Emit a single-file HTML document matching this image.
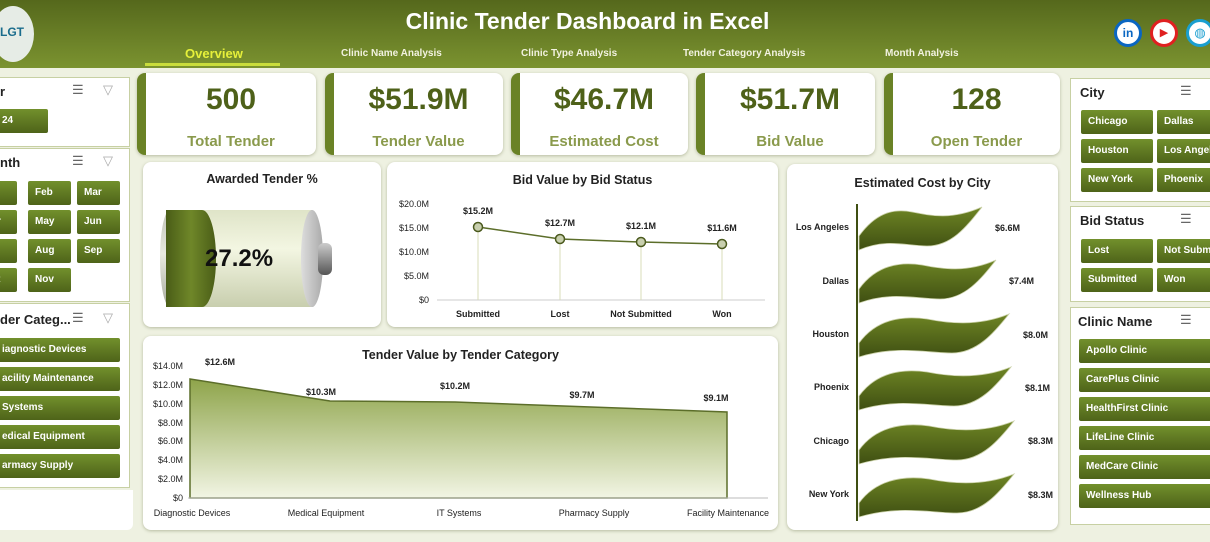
<!DOCTYPE html>
<html><head><meta charset="utf-8"><style>
*{box-sizing:border-box;margin:0;padding:0}
body{width:1210px;height:542px;overflow:hidden;background:#eef1e1;font-family:"Liberation Sans",sans-serif;position:relative}
.abs{position:absolute}
.hdr{left:0;top:0;width:1210px;height:68px;background:linear-gradient(#55681c,#7b9330)}
.card{position:absolute;background:#fff;border-radius:8px;box-shadow:0 1px 3px rgba(80,90,40,.35)}
.kpi{position:absolute;background:#fff;border-radius:8px;border-left:9px solid #6a8226;box-shadow:0 1px 3px rgba(80,90,40,.35)}
.kv{position:absolute;top:10px;width:100%;text-align:center;font-size:30px;font-weight:bold;color:#4e6119}
.kl{position:absolute;top:60px;width:100%;text-align:center;font-size:15px;font-weight:bold;color:#8a9a4c}
.btn{position:absolute;background:linear-gradient(#72902c,#4e6319);color:#fff;font-size:10px;font-weight:bold;border-radius:2px;padding-left:7px;line-height:24px;height:24px;white-space:nowrap;overflow:hidden}
.pan{position:absolute;background:#fff;border:1px solid #c7d0a3}
.pt{position:absolute;font-size:13px;font-weight:bold;color:#222}
.ic{position:absolute;font-size:13px;color:#666}
.tt{position:absolute;font-size:12.5px;font-weight:bold;color:#222;text-align:center}
svg text{font-family:"Liberation Sans",sans-serif}
</style></head><body>
<div class="abs hdr"></div>
<div class="abs" style="left:-8px;top:6px;width:42px;height:56px;border-radius:50%;background:#e6ece6"></div>
<div class="abs" style="left:0;top:25px;font-size:12px;font-weight:bold;color:#1a6c8c">LGT</div>
<div class="abs" style="left:0;top:8px;width:1175px;text-align:center;font-size:23px;font-weight:bold;color:#fff">Clinic Tender Dashboard in Excel</div>
<div class="abs" style="left:185px;top:46px;font-size:13px;font-weight:bold;color:#e6f03a">Overview</div>
<div class="abs" style="left:145px;top:63px;width:135px;height:3px;background:#c9dc3c"></div>
<div class="abs" style="left:341px;top:48px;font-size:10px;font-weight:bold;color:#f2f2e0">Clinic Name Analysis</div>
<div class="abs" style="left:521px;top:48px;font-size:10px;font-weight:bold;color:#f2f2e0">Clinic Type Analysis</div>
<div class="abs" style="left:683px;top:48px;font-size:10px;font-weight:bold;color:#f2f2e0">Tender Category  Analysis</div>
<div class="abs" style="left:885px;top:48px;font-size:10px;font-weight:bold;color:#f2f2e0">Month Analysis</div>
<div class="abs" style="left:1114px;top:19px;width:28px;height:28px;border-radius:50%;background:#fff;border:3px solid #0a66c2;color:#0a66c2;font-size:12px;font-weight:bold;text-align:center;line-height:22px">in</div>
<div class="abs" style="left:1150px;top:19px;width:28px;height:28px;border-radius:50%;background:#fff;border:3px solid #e02020;color:#e02020;font-size:11px;text-align:center;line-height:22px">▶</div>
<div class="abs" style="left:1186px;top:19px;width:28px;height:28px;border-radius:50%;background:#fff;border:3px solid #1a9fd0;color:#1a9fd0;font-size:13px;text-align:center;line-height:22px">◍</div>

<!-- left panels -->
<div class="pan" style="left:-2px;top:77px;width:132px;height:70px"></div>
<div class="pt" style="left:0;top:84px">r</div><div class="ic" style="left:72px;top:82px">☰</div><div class="ic" style="left:103px;top:82px;color:#aaa">▽</div>
<div class="btn" style="left:-5px;top:109px;width:53px">24</div>
<div class="pan" style="left:-2px;top:148px;width:132px;height:154px"></div>
<div class="pt" style="left:0;top:155px">nth</div><div class="ic" style="left:72px;top:153px">☰</div><div class="ic" style="left:103px;top:153px;color:#aaa">▽</div>
<div class="btn" style="left:-10px;top:181px;width:27px"></div><div class="btn" style="left:28px;top:181px;width:43px">Feb</div><div class="btn" style="left:77px;top:181px;width:43px">Mar</div>
<div class="btn" style="left:-10px;top:210px;width:27px">r</div><div class="btn" style="left:28px;top:210px;width:43px">May</div><div class="btn" style="left:77px;top:210px;width:43px">Jun</div>
<div class="btn" style="left:-10px;top:239px;width:27px"></div><div class="btn" style="left:28px;top:239px;width:43px">Aug</div><div class="btn" style="left:77px;top:239px;width:43px">Sep</div>
<div class="btn" style="left:-10px;top:268px;width:27px">t</div><div class="btn" style="left:28px;top:268px;width:43px">Nov</div>
<div class="pan" style="left:-2px;top:303px;width:132px;height:185px"></div>
<div class="pt" style="left:0;top:312px">der Categ...</div><div class="ic" style="left:72px;top:310px">☰</div><div class="ic" style="left:103px;top:310px;color:#aaa">▽</div>
<div class="btn" style="left:-5px;top:338px;width:125px">iagnostic Devices</div>
<div class="btn" style="left:-5px;top:367px;width:125px">acility Maintenance</div>
<div class="btn" style="left:-5px;top:396px;width:125px">Systems</div>
<div class="btn" style="left:-5px;top:425px;width:125px">edical Equipment</div>
<div class="btn" style="left:-5px;top:454px;width:125px">armacy Supply</div>
<div class="abs" style="left:0;top:490px;width:133px;height:40px;background:#fff;border-radius:0 0 6px 0"></div>

<!-- KPIs -->
<div class="kpi" style="left:137px;top:73px;width:179px;height:82px"><div class="kv">500</div><div class="kl">Total Tender</div></div>
<div class="kpi" style="left:325px;top:73px;width:178px;height:82px"><div class="kv">$51.9M</div><div class="kl">Tender Value</div></div>
<div class="kpi" style="left:511px;top:73px;width:177px;height:82px"><div class="kv">$46.7M</div><div class="kl">Estimated Cost</div></div>
<div class="kpi" style="left:696px;top:73px;width:179px;height:82px"><div class="kv">$51.7M</div><div class="kl">Bid Value</div></div>
<div class="kpi" style="left:884px;top:73px;width:176px;height:82px"><div class="kv">128</div><div class="kl">Open Tender</div></div>

<!-- Awarded -->
<div class="card" style="left:143px;top:162px;width:238px;height:165px"></div>
<div class="tt" style="left:143px;top:172px;width:238px">Awarded Tender %</div>
<div class="abs" style="left:160px;top:210px;width:162px;height:97px;border-radius:10px/48px;background:linear-gradient(#bfc2b6,#e8eae0 45%,#a9ac9f)"></div>
<div class="abs" style="left:166px;top:210px;width:145px;height:97px;background:linear-gradient(#dfe4c8,#f3f6e2 40%,#c8ceae)"></div>
<div class="abs" style="left:166px;top:210px;width:50px;height:97px;background:linear-gradient(90deg,#4a5d17,#6f8729 50%,#4a5d17);border-radius:0 14px 14px 0/0 48px 48px 0"></div>
<div class="abs" style="left:301px;top:210px;width:22px;height:97px;border-radius:11px/48px;background:linear-gradient(90deg,#ddd,#aaa)"></div>
<div class="abs" style="left:318px;top:243px;width:14px;height:32px;border-radius:6px;background:linear-gradient(#ccc,#555)"></div>
<div class="abs" style="left:205px;top:245px;font-size:24px;font-weight:bold;color:#111">27.2%</div>

<!-- Bid value chart -->
<div class="card" style="left:387px;top:162px;width:391px;height:165px"></div>
<div class="tt" style="left:387px;top:173px;width:391px">Bid Value by Bid Status</div>
<svg class="abs" style="left:387px;top:162px" width="391" height="165">
<g font-size="9" fill="#222" text-anchor="end">
<text x="42" y="45">$20.0M</text><text x="42" y="69">$15.0M</text><text x="42" y="93">$10.0M</text><text x="42" y="117">$5.0M</text><text x="42" y="141">$0</text></g>
<line x1="50" y1="138" x2="378" y2="138" stroke="#ccc"/>
<g stroke="#d8dcb8"><line x1="91" y1="65" x2="91" y2="138"/><line x1="173" y1="77" x2="173" y2="138"/><line x1="254" y1="80" x2="254" y2="138"/><line x1="335" y1="82" x2="335" y2="138"/></g>
<polyline points="91,65 173,77 254,80 335,82" fill="none" stroke="#5c6e2a" stroke-width="1.5"/>
<g fill="#c8cfae" stroke="#4b5a1e" stroke-width="1.5"><circle cx="91" cy="65" r="4.5"/><circle cx="173" cy="77" r="4.5"/><circle cx="254" cy="80" r="4.5"/><circle cx="335" cy="82" r="4.5"/></g>
<g font-size="9" font-weight="bold" fill="#222" text-anchor="middle">
<text x="91" y="52">$15.2M</text><text x="173" y="64">$12.7M</text><text x="254" y="67">$12.1M</text><text x="335" y="69">$11.6M</text>
<text x="91" y="155">Submitted</text><text x="173" y="155">Lost</text><text x="254" y="155">Not Submitted</text><text x="335" y="155">Won</text></g>
</svg>

<!-- Tender value chart -->
<div class="card" style="left:143px;top:336px;width:635px;height:194px"></div>
<div class="tt" style="left:143px;top:348px;width:635px">Tender Value by Tender Category</div>
<svg class="abs" style="left:143px;top:336px" width="635" height="194">
<defs><linearGradient id="ag" x1="0" y1="0" x2="0" y2="1"><stop offset="0" stop-color="#8ea44a"/><stop offset="1" stop-color="#f2f5e4"/></linearGradient></defs>
<g font-size="9" fill="#222" text-anchor="end">
<text x="40" y="33">$14.0M</text><text x="40" y="52">$12.0M</text><text x="40" y="71">$10.0M</text><text x="40" y="90">$8.0M</text><text x="40" y="108">$6.0M</text><text x="40" y="127">$4.0M</text><text x="40" y="146">$2.0M</text><text x="40" y="165">$0</text></g>
<polygon points="47,43 187,65 312,66 448,71 584,76 584,162 47,162" fill="url(#ag)" stroke="#5c6e2a" stroke-width="1.5"/>
<line x1="45" y1="162" x2="625" y2="162" stroke="#bbb"/>
<g font-size="9" font-weight="bold" fill="#222" text-anchor="middle">
<text x="77" y="29">$12.6M</text><text x="178" y="59">$10.3M</text><text x="312" y="53">$10.2M</text><text x="439" y="62">$9.7M</text><text x="573" y="65">$9.1M</text></g>
<g font-size="9" fill="#222" text-anchor="middle">
<text x="49" y="180">Diagnostic Devices</text><text x="183" y="180">Medical Equipment</text><text x="316" y="180">IT Systems</text><text x="451" y="180">Pharmacy Supply</text><text x="585" y="180">Facility Maintenance</text></g>
</svg>

<!-- City chart -->
<div class="card" style="left:787px;top:164px;width:271px;height:366px"></div>
<div class="tt" style="left:787px;top:176px;width:271px">Estimated Cost by City</div>
<svg class="abs" style="left:787px;top:164px" width="271" height="366">
<defs><linearGradient id="fg" x1="0" y1="0" x2="0" y2="1"><stop offset="0" stop-color="#6e8524"/><stop offset="1" stop-color="#3f4f12"/></linearGradient></defs>
<line x1="70" y1="40" x2="70" y2="357" stroke="#3f4f12" stroke-width="2"/>
<g fill="url(#fg)" stroke="#c9d0a6" stroke-width="0.8">
<path d="M72,72 C88,50 105,44 125,48 C145,52 165,56 195,43 C180,62 165,82 140,82 C120,82 100,74 72,86 Z"/>
<path d="M72,125 C88,103 110,97 135,101 C155,105 180,109 209,96 C194,115 178,135 153,135 C130,135 105,127 72,139 Z"/>
<path d="M72,179 C88,157 112,151 140,155 C160,159 190,163 222,150 C207,169 190,189 165,189 C140,189 110,181 72,193 Z"/>
<path d="M72,232 C88,210 112,204 140,208 C160,212 192,216 224,203 C209,222 192,242 167,242 C142,242 110,234 72,246 Z"/>
<path d="M72,286 C88,264 114,258 142,262 C162,266 195,270 227,257 C212,276 195,296 170,296 C145,296 112,288 72,300 Z"/>
<path d="M72,339 C88,317 114,311 142,315 C162,319 195,323 227,310 C212,329 195,349 170,349 C145,349 112,341 72,353 Z"/>
</g>
<g font-size="9" font-weight="bold" fill="#222" text-anchor="end">
<text x="62" y="66">Los Angeles</text><text x="62" y="120">Dallas</text><text x="62" y="173">Houston</text><text x="62" y="226">Phoenix</text><text x="62" y="280">Chicago</text><text x="62" y="333">New York</text></g>
<g font-size="9" font-weight="bold" fill="#222">
<text x="208" y="67">$6.6M</text><text x="222" y="120">$7.4M</text><text x="236" y="174">$8.0M</text><text x="238" y="227">$8.1M</text><text x="241" y="280">$8.3M</text><text x="241" y="334">$8.3M</text></g>
</svg>

<!-- right panels -->
<div class="pan" style="left:1070px;top:78px;width:145px;height:124px"></div>
<div class="pt" style="left:1080px;top:85px">City</div><div class="ic" style="left:1180px;top:83px">☰</div>
<div class="btn" style="left:1081px;top:110px;width:72px">Chicago</div><div class="btn" style="left:1157px;top:110px;width:60px">Dallas</div>
<div class="btn" style="left:1081px;top:139px;width:72px">Houston</div><div class="btn" style="left:1157px;top:139px;width:60px">Los Angeles</div>
<div class="btn" style="left:1081px;top:168px;width:72px">New York</div><div class="btn" style="left:1157px;top:168px;width:60px">Phoenix</div>
<div class="pan" style="left:1070px;top:206px;width:145px;height:96px"></div>
<div class="pt" style="left:1080px;top:213px">Bid Status</div><div class="ic" style="left:1180px;top:211px">☰</div>
<div class="btn" style="left:1081px;top:239px;width:72px">Lost</div><div class="btn" style="left:1157px;top:239px;width:60px">Not Submitted</div>
<div class="btn" style="left:1081px;top:268px;width:72px">Submitted</div><div class="btn" style="left:1157px;top:268px;width:60px">Won</div>
<div class="pan" style="left:1070px;top:307px;width:145px;height:218px"></div>
<div class="pt" style="left:1078px;top:314px">Clinic Name</div><div class="ic" style="left:1180px;top:312px">☰</div>
<div class="btn" style="left:1079px;top:339px;width:135px">Apollo Clinic</div>
<div class="btn" style="left:1079px;top:368px;width:135px">CarePlus Clinic</div>
<div class="btn" style="left:1079px;top:397px;width:135px">HealthFirst Clinic</div>
<div class="btn" style="left:1079px;top:426px;width:135px">LifeLine Clinic</div>
<div class="btn" style="left:1079px;top:455px;width:135px">MedCare Clinic</div>
<div class="btn" style="left:1079px;top:484px;width:135px">Wellness Hub</div>
</body></html>
